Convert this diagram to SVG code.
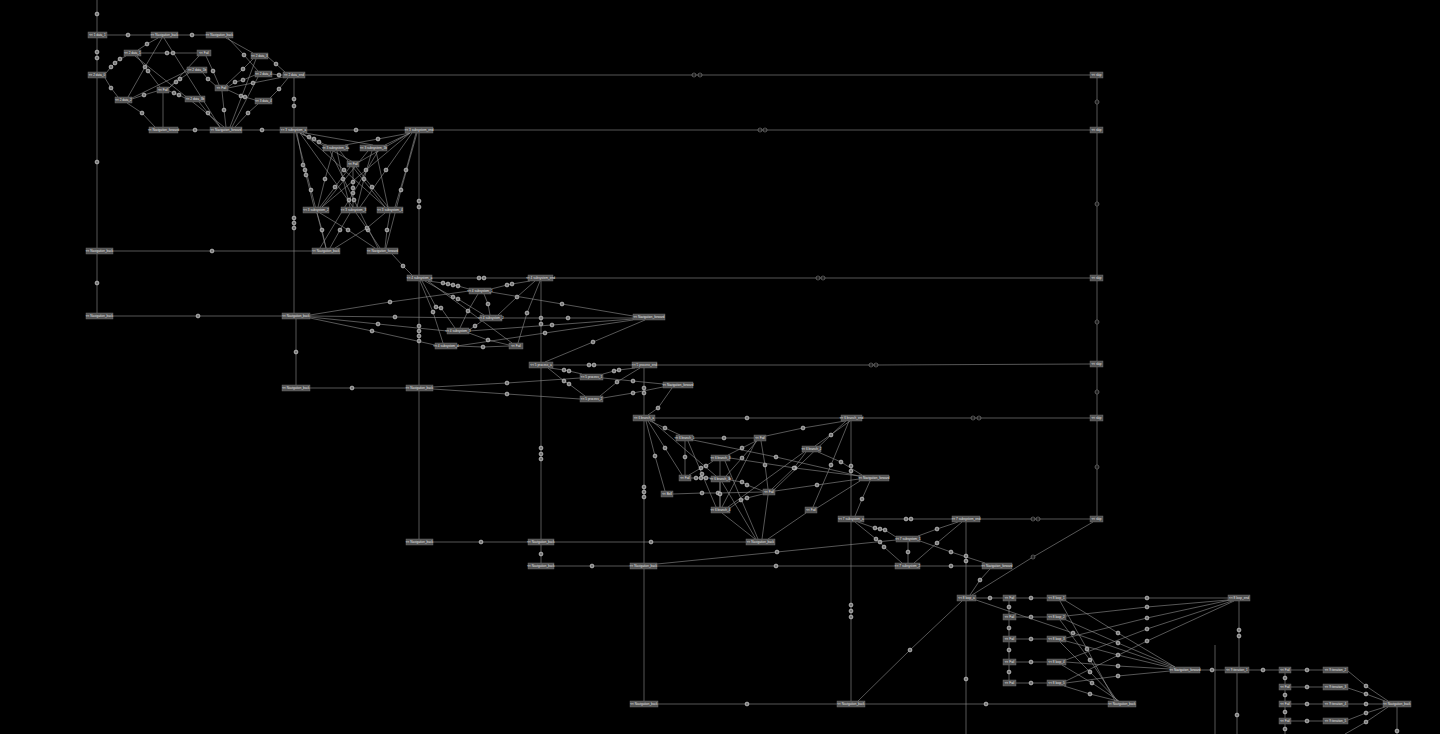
<svg xmlns="http://www.w3.org/2000/svg" width="1440" height="734" viewBox="0 0 1440 734">
<style>
.bg{fill:#000}
.node rect{fill:#525252;stroke:#7a7a7a;stroke-width:0.4}
.node text{fill:#e6e6e6;font-family:"Liberation Sans",Arial,sans-serif;font-size:3.1px;text-anchor:middle}
.e{fill:none;stroke:#909090;stroke-width:0.6;marker-mid:url(#m)}
.s{fill:none;stroke:#909090;stroke-width:0.6;marker-mid:url(#h)}
</style>
<defs>
<marker id="m" markerUnits="userSpaceOnUse" markerWidth="6" markerHeight="6" refX="3" refY="3" orient="0" overflow="visible"><circle cx="3" cy="3" r="2" fill="#9c9c9c" stroke="#d4d4d4" stroke-width="0.5"/><path d="M1.9 1.9L4.1 4.1M4.1 1.9L1.9 4.1" stroke="#4a4a4a" stroke-width="0.45"/></marker>
<marker id="h" markerUnits="userSpaceOnUse" markerWidth="6" markerHeight="6" refX="3" refY="3" orient="0" overflow="visible"><circle cx="3" cy="3" r="2" fill="#000" stroke="#8c8c8c" stroke-width="0.6"/><path d="M1.2 3H4.8" stroke="#8c8c8c" stroke-width="0.5"/></marker>
</defs>
<rect class="bg" x="0" y="0" width="1440" height="734"/>
<g id="connectors">
<path class="e" d="M97 0 L97 14 L97 32"/>
<path class="e" d="M107 35 L128 35 L151 35"/>
<path class="e" d="M178 35 L192 35 L206 35"/>
<path class="e" d="M97 38 L97 52 L97 58 L97 72"/>
<path class="e" d="M97 78 L97 162 L97 248"/>
<path class="e" d="M97 254 L97 283 L97 313"/>
<path class="e" d="M113 251 L212 251 L312 251"/>
<path class="e" d="M113 316 L198 316 L282 316"/>
<path class="e" d="M106 73 L111 67 L115 63 L120 59 L126 56"/>
<path class="e" d="M105 78 L111 88 L118 97"/>
<path class="e" d="M141 53 L167 53 L173 53 L197 53"/>
<path class="e" d="M138 50 L147 44 L158 38"/>
<path class="e" d="M162 38 L145 67 L128 97"/>
<path class="e" d="M137 56 L148 71 L160 87"/>
<path class="e" d="M132 99 L144 95 L157 91"/>
<path class="e" d="M127 103 L142 113 L155 127"/>
<path class="e" d="M169 88 L176 82 L180 79 L189 73"/>
<path class="e" d="M169 91 L174 93 L179 95 L185 98"/>
<path class="e" d="M203 73 L208 79 L216 86"/>
<path class="e" d="M206 56 L213 71 L219 85"/>
<path class="e" d="M226 85 L243 69 L253 59"/>
<path class="e" d="M228 87 L235 82 L243 80 L255 75"/>
<path class="e" d="M228 88 L253 83 L283 77"/>
<path class="e" d="M228 90 L241 96 L245 97 L255 100"/>
<path class="e" d="M228 38 L244 55 L258 71"/>
<path class="e" d="M226 38 L253 53"/>
<path class="e" d="M268 57 L276 64 L285 72"/>
<path class="e" d="M272 74 L279 75 L283 75"/>
<path class="e" d="M270 98 L279 89 L288 78"/>
<path class="e" d="M294 78 L294 99 L294 106 L294 127"/>
<path class="e" d="M178 130 L195 130 L210 130"/>
<path class="e" d="M242 130 L262 130 L280 130"/>
<path class="e" d="M135 56 L224 127"/>
<path class="e" d="M164 38 L220 127"/>
<path class="e" d="M199 102 L208 113 L220 127"/>
<path class="e" d="M222 91 L224 110 L226 127"/>
<path class="e" d="M258 104 L248 113 L235 127"/>
<path class="e" d="M258 77 L232 127"/>
<path class="e" d="M256 59 L230 127"/>
<path class="e" d="M163 127 L163 93"/>
<path class="e" d="M199 56 L169 88"/>
<path class="e" d="M187 71 L132 98"/>
<path class="e" d="M307 130 L356 130 L405 130"/>
<path class="e" d="M294 133 L294 218 L294 223 L294 228 L294 313"/>
<path class="e" d="M296 319 L296 352 L296 385"/>
<path class="e" d="M419 133 L419 201 L419 207 L419 275"/>
<path class="e" d="M419 281 L419 326 L419 331 L419 336 L419 341 L419 385"/>
<path class="e" d="M419 391 L419 539"/>
<path class="e" d="M300 133 L309 137 L314 139 L319 142 L328 146"/>
<path class="e" d="M305 133 L373 145"/>
<path class="e" d="M300 133 L326 147 L353 162"/>
<path class="e" d="M297 133 L303 165 L305 170 L306 175 L314 207"/>
<path class="e" d="M300 133 L353 207"/>
<path class="e" d="M303 133 L344 170 L385 207"/>
<path class="e" d="M296 133 L311 190 L326 248"/>
<path class="e" d="M410 133 L385 145"/>
<path class="e" d="M410 133 L378 139 L345 145"/>
<path class="e" d="M410 133 L359 162"/>
<path class="e" d="M416 133 L406 170 L395 207"/>
<path class="e" d="M412 133 L386 170 L360 207"/>
<path class="e" d="M410 133 L366 170 L322 207"/>
<path class="e" d="M417 133 L401 190 L386 248"/>
<path class="e" d="M333 151 L325 179 L318 207"/>
<path class="e" d="M337 151 L343 179 L350 207"/>
<path class="e" d="M340 151 L385 207"/>
<path class="e" d="M368 151 L322 207"/>
<path class="e" d="M372 151 L364 179 L357 207"/>
<path class="e" d="M376 151 L388 207"/>
<path class="e" d="M353 167 L353 182 L353 188 L353 193 L353 207"/>
<path class="e" d="M350 167 L335 187 L320 207"/>
<path class="e" d="M356 167 L372 187 L388 207"/>
<path class="e" d="M317 213 L322 230 L326 248"/>
<path class="e" d="M320 213 L348 230 L375 248"/>
<path class="e" d="M350 213 L340 230 L330 248"/>
<path class="e" d="M356 213 L368 230 L380 248"/>
<path class="e" d="M385 213 L367 228 L335 248"/>
<path class="e" d="M390 213 L387 230 L385 248"/>
<path class="e" d="M330 151 L354 200 L378 248"/>
<path class="e" d="M378 151 L349 200 L320 248"/>
<path class="e" d="M392 254 L403 266 L412 275"/>
<path class="e" d="M432 278 L479 278 L484 278 L528 278"/>
<path class="e" d="M541 281 L541 318 L541 324 L541 362"/>
<path class="e" d="M541 368 L541 448 L541 454 L541 459 L541 539"/>
<path class="e" d="M541 545 L541 554 L541 563"/>
<path class="e" d="M428 281 L443 283 L448 284 L453 285 L458 286 L469 289"/>
<path class="e" d="M425 281 L453 297 L458 299 L484 315"/>
<path class="e" d="M422 281 L436 307 L441 308 L455 328"/>
<path class="e" d="M420 281 L433 312 L443 343"/>
<path class="e" d="M428 281 L512 343"/>
<path class="e" d="M530 281 L512 284 L507 285 L491 289"/>
<path class="e" d="M535 281 L517 297 L498 315"/>
<path class="e" d="M540 281 L527 313 L518 343"/>
<path class="e" d="M491 292 L562 304 L633 316"/>
<path class="e" d="M502 318 L568 318 L633 318"/>
<path class="e" d="M469 331 L552 325 L633 319"/>
<path class="e" d="M457 346 L545 333 L633 320"/>
<path class="e" d="M645 320 L593 342 L545 362"/>
<path class="e" d="M310 315 L390 302 L469 291"/>
<path class="e" d="M310 316 L395 317 L480 318"/>
<path class="e" d="M310 317 L378 324 L447 331"/>
<path class="e" d="M310 318 L372 331 L435 345"/>
<path class="e" d="M482 321 L475 326 L469 330"/>
<path class="e" d="M478 294 L468 311 L460 328"/>
<path class="e" d="M484 294 L488 304 L490 315"/>
<path class="e" d="M469 333 L488 340 L509 345"/>
<path class="e" d="M457 346 L483 347 L509 346"/>
<path class="e" d="M310 388 L352 388 L406 388"/>
<path class="e" d="M433 387 L507 383 L580 378"/>
<path class="e" d="M433 389 L507 394 L580 399"/>
<path class="e" d="M553 365 L589 365 L594 365 L632 365"/>
<path class="e" d="M550 368 L564 370 L569 371 L582 374"/>
<path class="e" d="M548 368 L564 381 L569 384 L585 396"/>
<path class="e" d="M635 368 L619 370 L614 371 L603 374"/>
<path class="e" d="M640 368 L617 382 L600 396"/>
<path class="e" d="M603 378 L633 381 L663 384"/>
<path class="e" d="M603 398 L633 393 L663 387"/>
<path class="e" d="M644 368 L644 388 L644 393 L644 415"/>
<path class="e" d="M672 388 L658 408 L648 415"/>
<path class="e" d="M655 418 L747 418 L841 418"/>
<path class="e" d="M644 421 L644 487 L644 492 L644 497 L644 563"/>
<path class="e" d="M644 569 L644 701"/>
<path class="e" d="M650 421 L665 428 L680 435"/>
<path class="e" d="M648 421 L665 448 L682 475"/>
<path class="e" d="M646 421 L655 456 L665 491"/>
<path class="e" d="M652 421 L716 476"/>
<path class="e" d="M845 421 L803 428 L766 436"/>
<path class="e" d="M850 421 L815 446"/>
<path class="e" d="M851 421 L851 466 L851 471 L851 516"/>
<path class="e" d="M846 421 L831 435 L775 489"/>
<path class="e" d="M849 421 L831 465 L813 507"/>
<path class="e" d="M685 441 L685 457 L685 475"/>
<path class="e" d="M693 438 L724 438 L754 438"/>
<path class="e" d="M693 440 L776 457 L859 476"/>
<path class="e" d="M688 441 L702 474 L716 507"/>
<path class="e" d="M756 441 L742 448 L728 455"/>
<path class="e" d="M757 441 L742 458 L726 476"/>
<path class="e" d="M761 441 L765 465 L768 489"/>
<path class="e" d="M756 441 L722 507"/>
<path class="e" d="M730 458 L795 468 L859 476"/>
<path class="e" d="M806 452 L794 468 L772 489"/>
<path class="e" d="M818 452 L841 462 L862 475"/>
<path class="e" d="M804 452 L728 507"/>
<path class="e" d="M691 478 L696 478 L701 478 L706 478 L711 478"/>
<path class="e" d="M689 475 L701 468 L706 466 L713 461"/>
<path class="e" d="M730 480 L742 482 L747 485 L763 491"/>
<path class="e" d="M673 494 L702 493 L718 493 L763 492"/>
<path class="e" d="M720 461 L720 507"/>
<path class="e" d="M720 482 L720 494 L720 507"/>
<path class="e" d="M730 508 L741 500 L747 498 L763 494"/>
<path class="e" d="M775 491 L817 485 L859 479"/>
<path class="e" d="M870 481 L862 499 L855 516"/>
<path class="e" d="M817 508 L860 481"/>
<path class="e" d="M722 482 L756 539"/>
<path class="e" d="M722 513 L755 539"/>
<path class="e" d="M725 461 L758 539"/>
<path class="e" d="M768 495 L762 539"/>
<path class="e" d="M806 513 L768 539"/>
<path class="e" d="M864 519 L906 519 L911 519 L952 519"/>
<path class="e" d="M858 522 L875 528 L880 529 L885 530 L896 537"/>
<path class="e" d="M855 522 L876 539 L880 542 L884 547 L902 563"/>
<path class="e" d="M958 522 L937 529 L918 536"/>
<path class="e" d="M962 522 L937 543 L914 563"/>
<path class="e" d="M908 542 L908 552 L908 563"/>
<path class="e" d="M920 541 L951 552 L985 563"/>
<path class="e" d="M966 522 L966 556 L966 561 L966 595"/>
<path class="e" d="M657 564 L777 552 L896 540"/>
<path class="e" d="M657 566 L776 566 L895 566"/>
<path class="e" d="M920 566 L951 566 L982 566"/>
<path class="e" d="M554 566 L592 566 L630 566"/>
<path class="e" d="M433 542 L481 542 L528 542"/>
<path class="e" d="M554 542 L651 542 L746 542"/>
<path class="e" d="M990 569 L980 580 L970 595"/>
<path class="e" d="M858 701 L910 650 L962 601"/>
<path class="e" d="M966 601 L966 679 L966 734"/>
<path class="e" d="M658 704 L747 704 L837 704"/>
<path class="e" d="M865 704 L986 704 L1108 704"/>
<path class="e" d="M851 522 L851 605 L851 611 L851 617 L851 701"/>
<path class="e" d="M976 598 L990 598 L1003 598"/>
<path class="e" d="M1016 598 L1031 598 L1047 598"/>
<path class="e" d="M1066 598 L1147 598 L1228 598"/>
<path class="e" d="M1009 601 L1009 607 L1009 614"/>
<path class="e" d="M1009 620 L1009 628 L1009 636"/>
<path class="e" d="M1009 642 L1009 650 L1009 659"/>
<path class="e" d="M1009 665 L1009 672 L1009 680"/>
<path class="e" d="M1016 617 L1031 617 L1047 617"/>
<path class="e" d="M1016 639 L1031 639 L1047 639"/>
<path class="e" d="M1016 662 L1031 662 L1047 662"/>
<path class="e" d="M1016 683 L1031 683 L1047 683"/>
<path class="e" d="M1066 616 L1147 607 L1228 600"/>
<path class="e" d="M1066 638 L1147 618 L1230 600"/>
<path class="e" d="M1066 660 L1147 629 L1232 601"/>
<path class="e" d="M1066 681 L1147 641 L1234 601"/>
<path class="e" d="M976 600 L1073 633 L1172 667"/>
<path class="e" d="M1066 601 L1118 633 L1175 667"/>
<path class="e" d="M1066 620 L1118 643 L1175 667"/>
<path class="e" d="M1066 641 L1118 655 L1172 668"/>
<path class="e" d="M1066 662 L1118 666 L1170 669"/>
<path class="e" d="M1066 683 L1118 676 L1170 671"/>
<path class="e" d="M1060 601 L1087 649 L1115 701"/>
<path class="e" d="M1060 620 L1090 660 L1117 701"/>
<path class="e" d="M1060 642 L1090 672 L1118 701"/>
<path class="e" d="M1062 665 L1092 683 L1119 701"/>
<path class="e" d="M1064 686 L1090 694 L1118 701"/>
<path class="e" d="M1239 601 L1239 630 L1239 636 L1239 667"/>
<path class="e" d="M1200 670 L1212 670 L1225 670"/>
<path class="e" d="M1237 673 L1237 715 L1237 734"/>
<path class="e" d="M1215 645 L1215 734"/>
<path class="e" d="M1249 670 L1263 670 L1279 670"/>
<path class="e" d="M1291 670 L1307 670 L1323 670"/>
<path class="e" d="M1291 687 L1307 687 L1323 687"/>
<path class="e" d="M1291 704 L1307 704 L1323 704"/>
<path class="e" d="M1291 721 L1307 721 L1323 721"/>
<path class="e" d="M1285 673 L1285 678 L1285 684"/>
<path class="e" d="M1285 690 L1285 695 L1285 701"/>
<path class="e" d="M1285 707 L1285 712 L1285 718"/>
<path class="e" d="M1285 724 L1285 729 L1285 734"/>
<path class="e" d="M1348 671 L1366 686 L1388 701"/>
<path class="e" d="M1348 688 L1366 694 L1385 701"/>
<path class="e" d="M1348 704 L1366 704 L1383 704"/>
<path class="e" d="M1348 720 L1366 713 L1385 707"/>
<path class="e" d="M1345 734 L1366 722 L1388 707"/>
<path class="e" d="M1397 707 L1397 731 L1397 740"/>
<path class="s" d="M305 75 L694 75 L700 75 L1090 75"/>
<path class="s" d="M433 130 L760 130 L765 130 L1090 130"/>
<path class="s" d="M553 278 L818 278 L823 278 L1090 278"/>
<path class="s" d="M657 365 L871 365 L876 365 L1090 364"/>
<path class="s" d="M862 418 L973 418 L979 418 L1090 418"/>
<path class="s" d="M980 519 L1033 519 L1038 519 L1090 519"/>
<path class="s" d="M1097 78 L1097 102 L1097 127"/>
<path class="s" d="M1097 133 L1097 204 L1097 275"/>
<path class="s" d="M1097 281 L1097 322 L1097 361"/>
<path class="s" d="M1097 367 L1097 392 L1097 415"/>
<path class="s" d="M1097 421 L1097 467 L1097 516"/>
<path class="s" d="M1093 522 L1033 557 L972 595"/>
</g>
<g id="n1" class="node"><rect x="88" y="32" width="19" height="6"/><text x="97.5" y="36.1">&lt;&lt; 1 data_1</text></g>
<g id="n2" class="node"><rect x="151" y="32" width="27" height="6"/><text x="164.5" y="36.1">&lt;&lt; Navigation_back</text></g>
<g id="n3" class="node"><rect x="206" y="32" width="27" height="6"/><text x="219.5" y="36.1">&lt;&lt; Navigation_back</text></g>
<g id="n4" class="node"><rect x="124" y="50" width="17" height="6"/><text x="132.5" y="54.1">&lt;&lt; 2 data_1</text></g>
<g id="n5" class="node"><rect x="197" y="50" width="14" height="6"/><text x="204" y="54.1">&lt;&lt; Fail</text></g>
<g id="n6" class="node"><rect x="251" y="53" width="17" height="6"/><text x="259.5" y="57.1">&lt;&lt; 2 data_3</text></g>
<g id="n7" class="node"><rect x="187" y="67" width="20" height="6"/><text x="197" y="71.1">&lt;&lt; 2 data_1b</text></g>
<g id="n8" class="node"><rect x="255" y="71" width="17" height="6"/><text x="263.5" y="75.1">&lt;&lt; 2 data_4</text></g>
<g id="n9" class="node"><rect x="283" y="72" width="22" height="6"/><text x="294" y="76.1">&lt;&lt; 2 data_end</text></g>
<g id="n10" class="node"><rect x="88" y="72" width="18" height="6"/><text x="97" y="76.1">&lt;&lt; 2 data_0</text></g>
<g id="n11" class="node"><rect x="157" y="87" width="12" height="6"/><text x="163" y="91.1">&lt;&lt; Fail</text></g>
<g id="n12" class="node"><rect x="215" y="85" width="13" height="6"/><text x="221.5" y="89.1">&lt;&lt; Fail</text></g>
<g id="n13" class="node"><rect x="115" y="97" width="17" height="6"/><text x="123.5" y="101.1">&lt;&lt; 2 data_2</text></g>
<g id="n14" class="node"><rect x="185" y="96" width="20" height="6"/><text x="195" y="100.1">&lt;&lt; 2 data_3b</text></g>
<g id="n15" class="node"><rect x="255" y="98" width="17" height="6"/><text x="263.5" y="102.1">&lt;&lt; 3 data_4</text></g>
<g id="n16" class="node"><rect x="149" y="127" width="29" height="6"/><text x="163.5" y="131.1">&lt;&lt; Navigation_forward</text></g>
<g id="n17" class="node"><rect x="210" y="127" width="32" height="6"/><text x="226" y="131.1">&lt;&lt; Navigation_forward</text></g>
<g id="n18" class="node"><rect x="280" y="127" width="27" height="6"/><text x="293.5" y="131.1">&lt;&lt; 3 subsystem_a</text></g>
<g id="n19" class="node"><rect x="405" y="127" width="28" height="6"/><text x="419" y="131.1">&lt;&lt; 3 subsystem_end</text></g>
<g id="n20" class="node"><rect x="323" y="145" width="25" height="6"/><text x="335.5" y="149.1">&lt;&lt; 3 subsystem_1a</text></g>
<g id="n21" class="node"><rect x="360" y="145" width="27" height="6"/><text x="373.5" y="149.1">&lt;&lt; 3 subsystem_1b</text></g>
<g id="n22" class="node"><rect x="347" y="161" width="12" height="6"/><text x="353" y="165.1">&lt;&lt; Fail</text></g>
<g id="n23" class="node"><rect x="303" y="207" width="26" height="6"/><text x="316" y="211.1">&lt;&lt; 3 subsystem_2</text></g>
<g id="n24" class="node"><rect x="341" y="207" width="25" height="6"/><text x="353.5" y="211.1">&lt;&lt; 3 subsystem_3</text></g>
<g id="n25" class="node"><rect x="377" y="207" width="26" height="6"/><text x="390" y="211.1">&lt;&lt; 3 subsystem_4</text></g>
<g id="n26" class="node"><rect x="312" y="248" width="28" height="6"/><text x="326" y="252.1">&lt;&lt; Navigation_back</text></g>
<g id="n27" class="node"><rect x="367" y="248" width="31" height="6"/><text x="382.5" y="252.1">&lt;&lt; Navigation_forward</text></g>
<g id="n28" class="node"><rect x="86" y="248" width="27" height="6"/><text x="99.5" y="252.1">&lt;&lt; Navigation_back</text></g>
<g id="n29" class="node"><rect x="86" y="313" width="27" height="6"/><text x="99.5" y="317.1">&lt;&lt; Navigation_back</text></g>
<g id="n30" class="node"><rect x="282" y="313" width="28" height="6"/><text x="296" y="317.1">&lt;&lt; Navigation_back</text></g>
<g id="n31" class="node"><rect x="407" y="275" width="25" height="6"/><text x="419.5" y="279.1">&lt;&lt; 4 subsystem_a</text></g>
<g id="n32" class="node"><rect x="528" y="275" width="25" height="6"/><text x="540.5" y="279.1">&lt;&lt; 4 subsystem_end</text></g>
<g id="n33" class="node"><rect x="469" y="288" width="22" height="6"/><text x="480" y="292.1">&lt;&lt; 4 subsystem_1</text></g>
<g id="n34" class="node"><rect x="480" y="315" width="22" height="6"/><text x="491" y="319.1">&lt;&lt; 4 subsystem_2</text></g>
<g id="n35" class="node"><rect x="447" y="328" width="22" height="6"/><text x="458" y="332.1">&lt;&lt; 4 subsystem_3</text></g>
<g id="n36" class="node"><rect x="435" y="343" width="22" height="6"/><text x="446" y="347.1">&lt;&lt; 4 subsystem_4</text></g>
<g id="n37" class="node"><rect x="509" y="343" width="14" height="6"/><text x="516" y="347.1">&lt;&lt; Fail</text></g>
<g id="n38" class="node"><rect x="633" y="314" width="32" height="6"/><text x="649" y="318.1">&lt;&lt; Navigation_forward</text></g>
<g id="n39" class="node"><rect x="282" y="385" width="28" height="6"/><text x="296" y="389.1">&lt;&lt; Navigation_back</text></g>
<g id="n40" class="node"><rect x="406" y="385" width="27" height="6"/><text x="419.5" y="389.1">&lt;&lt; Navigation_back</text></g>
<g id="n41" class="node"><rect x="529" y="362" width="24" height="6"/><text x="541" y="366.1">&lt;&lt; 5 process_a</text></g>
<g id="n42" class="node"><rect x="632" y="362" width="25" height="6"/><text x="644.5" y="366.1">&lt;&lt; 5 process_end</text></g>
<g id="n43" class="node"><rect x="580" y="374" width="23" height="6"/><text x="591.5" y="378.1">&lt;&lt; 5 process_1</text></g>
<g id="n44" class="node"><rect x="580" y="396" width="23" height="6"/><text x="591.5" y="400.1">&lt;&lt; 5 process_2</text></g>
<g id="n45" class="node"><rect x="663" y="382" width="30" height="6"/><text x="678" y="386.1">&lt;&lt; Navigation_forward</text></g>
<g id="n46" class="node"><rect x="633" y="415" width="22" height="6"/><text x="644" y="419.1">&lt;&lt; 6 branch_a</text></g>
<g id="n47" class="node"><rect x="841" y="415" width="21" height="6"/><text x="851.5" y="419.1">&lt;&lt; 6 branch_end</text></g>
<g id="n48" class="node"><rect x="676" y="435" width="17" height="6"/><text x="684.5" y="439.1">&lt;&lt; 6 branch_1</text></g>
<g id="n49" class="node"><rect x="754" y="435" width="12" height="6"/><text x="760" y="439.1">&lt;&lt; Fail</text></g>
<g id="n50" class="node"><rect x="802" y="446" width="19" height="6"/><text x="811.5" y="450.1">&lt;&lt; 6 branch_2</text></g>
<g id="n51" class="node"><rect x="711" y="455" width="19" height="6"/><text x="720.5" y="459.1">&lt;&lt; 6 branch_3</text></g>
<g id="n52" class="node"><rect x="679" y="475" width="12" height="6"/><text x="685" y="479.1">&lt;&lt; Fail</text></g>
<g id="n53" class="node"><rect x="711" y="476" width="19" height="6"/><text x="720.5" y="480.1">&lt;&lt; 6 branch_3b</text></g>
<g id="n54" class="node"><rect x="859" y="475" width="30" height="6"/><text x="874" y="479.1">&lt;&lt; Navigation_forward</text></g>
<g id="n55" class="node"><rect x="661" y="491" width="12" height="6"/><text x="667" y="495.1">&lt;&lt; Bell</text></g>
<g id="n56" class="node"><rect x="763" y="489" width="12" height="6"/><text x="769" y="493.1">&lt;&lt; Fail</text></g>
<g id="n57" class="node"><rect x="711" y="507" width="19" height="6"/><text x="720.5" y="511.1">&lt;&lt; 6 branch_4</text></g>
<g id="n58" class="node"><rect x="805" y="507" width="12" height="6"/><text x="811" y="511.1">&lt;&lt; Fail</text></g>
<g id="n59" class="node"><rect x="838" y="516" width="26" height="6"/><text x="851" y="520.1">&lt;&lt; 7 subsystem_a</text></g>
<g id="n60" class="node"><rect x="952" y="516" width="28" height="6"/><text x="966" y="520.1">&lt;&lt; 7 subsystem_end</text></g>
<g id="n61" class="node"><rect x="896" y="536" width="24" height="6"/><text x="908" y="540.1">&lt;&lt; 7 subsystem_1</text></g>
<g id="n62" class="node"><rect x="895" y="563" width="25" height="6"/><text x="907.5" y="567.1">&lt;&lt; 7 subsystem_2</text></g>
<g id="n63" class="node"><rect x="982" y="563" width="30" height="6"/><text x="997" y="567.1">&lt;&lt; Navigation_forward</text></g>
<g id="n64" class="node"><rect x="406" y="539" width="27" height="6"/><text x="419.5" y="543.1">&lt;&lt; Navigation_back</text></g>
<g id="n65" class="node"><rect x="528" y="539" width="26" height="6"/><text x="541" y="543.1">&lt;&lt; Navigation_back</text></g>
<g id="n66" class="node"><rect x="746" y="539" width="29" height="6"/><text x="760.5" y="543.1">&lt;&lt; Navigation_back</text></g>
<g id="n67" class="node"><rect x="528" y="563" width="26" height="6"/><text x="541" y="567.1">&lt;&lt; Navigation_back</text></g>
<g id="n68" class="node"><rect x="630" y="563" width="27" height="6"/><text x="643.5" y="567.1">&lt;&lt; Navigation_back</text></g>
<g id="n69" class="node"><rect x="630" y="701" width="28" height="6"/><text x="644" y="705.1">&lt;&lt; Navigation_back</text></g>
<g id="n70" class="node"><rect x="837" y="701" width="28" height="6"/><text x="851" y="705.1">&lt;&lt; Navigation_back</text></g>
<g id="n71" class="node"><rect x="1108" y="701" width="28" height="6"/><text x="1122" y="705.1">&lt;&lt; Navigation_back</text></g>
<g id="s1" class="node"><rect x="1090" y="72" width="13" height="6"/><text x="1096.5" y="76.1">&lt;&lt; skip</text></g>
<g id="s2" class="node"><rect x="1090" y="127" width="13" height="6"/><text x="1096.5" y="131.1">&lt;&lt; skip</text></g>
<g id="s3" class="node"><rect x="1090" y="275" width="13" height="6"/><text x="1096.5" y="279.1">&lt;&lt; skip</text></g>
<g id="s4" class="node"><rect x="1090" y="361" width="13" height="6"/><text x="1096.5" y="365.1">&lt;&lt; skip</text></g>
<g id="s5" class="node"><rect x="1090" y="415" width="13" height="6"/><text x="1096.5" y="419.1">&lt;&lt; skip</text></g>
<g id="s6" class="node"><rect x="1090" y="516" width="13" height="6"/><text x="1096.5" y="520.1">&lt;&lt; skip</text></g>
<g id="n72" class="node"><rect x="957" y="595" width="19" height="6"/><text x="966.5" y="599.1">&lt;&lt; 8 loop_a</text></g>
<g id="n73" class="node"><rect x="1003" y="595" width="13" height="6"/><text x="1009.5" y="599.1">&lt;&lt; Fail</text></g>
<g id="n74" class="node"><rect x="1047" y="595" width="19" height="6"/><text x="1056.5" y="599.1">&lt;&lt; 8 loop_1</text></g>
<g id="n75" class="node"><rect x="1228" y="595" width="22" height="6"/><text x="1239" y="599.1">&lt;&lt; 8 loop_end</text></g>
<g id="n76" class="node"><rect x="1003" y="614" width="13" height="6"/><text x="1009.5" y="618.1">&lt;&lt; Fail</text></g>
<g id="n77" class="node"><rect x="1047" y="614" width="19" height="6"/><text x="1056.5" y="618.1">&lt;&lt; 8 loop_2</text></g>
<g id="n78" class="node"><rect x="1003" y="636" width="13" height="6"/><text x="1009.5" y="640.1">&lt;&lt; Fail</text></g>
<g id="n79" class="node"><rect x="1047" y="636" width="19" height="6"/><text x="1056.5" y="640.1">&lt;&lt; 8 loop_3</text></g>
<g id="n80" class="node"><rect x="1003" y="659" width="13" height="6"/><text x="1009.5" y="663.1">&lt;&lt; Fail</text></g>
<g id="n81" class="node"><rect x="1047" y="659" width="19" height="6"/><text x="1056.5" y="663.1">&lt;&lt; 8 loop_4</text></g>
<g id="n82" class="node"><rect x="1003" y="680" width="13" height="6"/><text x="1009.5" y="684.1">&lt;&lt; Fail</text></g>
<g id="n83" class="node"><rect x="1047" y="680" width="19" height="6"/><text x="1056.5" y="684.1">&lt;&lt; 8 loop_5</text></g>
<g id="n84" class="node"><rect x="1170" y="667" width="30" height="6"/><text x="1185" y="671.1">&lt;&lt; Navigation_forward</text></g>
<g id="n85" class="node"><rect x="1225" y="667" width="24" height="6"/><text x="1237" y="671.1">&lt;&lt; 9 iteration_1</text></g>
<g id="n86" class="node"><rect x="1279" y="667" width="12" height="6"/><text x="1285" y="671.1">&lt;&lt; Fail</text></g>
<g id="n87" class="node"><rect x="1323" y="667" width="25" height="6"/><text x="1335.5" y="671.1">&lt;&lt; 9 iteration_2</text></g>
<g id="n88" class="node"><rect x="1279" y="684" width="12" height="6"/><text x="1285" y="688.1">&lt;&lt; Fail</text></g>
<g id="n89" class="node"><rect x="1323" y="684" width="25" height="6"/><text x="1335.5" y="688.1">&lt;&lt; 9 iteration_3</text></g>
<g id="n90" class="node"><rect x="1279" y="701" width="12" height="6"/><text x="1285" y="705.1">&lt;&lt; Fail</text></g>
<g id="n91" class="node"><rect x="1323" y="701" width="25" height="6"/><text x="1335.5" y="705.1">&lt;&lt; 9 iteration_4</text></g>
<g id="n92" class="node"><rect x="1279" y="718" width="12" height="6"/><text x="1285" y="722.1">&lt;&lt; Fail</text></g>
<g id="n93" class="node"><rect x="1323" y="718" width="25" height="6"/><text x="1335.5" y="722.1">&lt;&lt; 9 iteration_5</text></g>
<g id="n94" class="node"><rect x="1383" y="701" width="28" height="6"/><text x="1397" y="705.1">&lt;&lt; Navigation_back</text></g>
</svg>
